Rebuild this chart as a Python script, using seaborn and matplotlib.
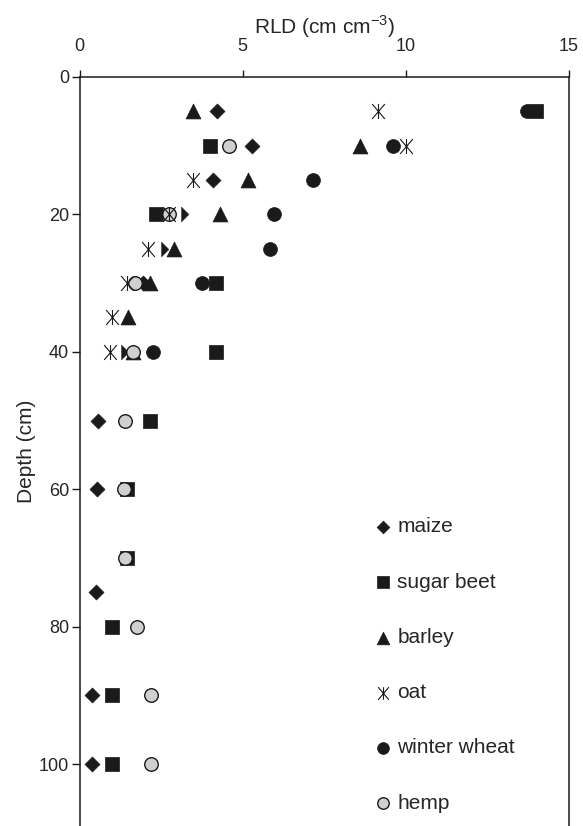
import matplotlib
matplotlib.use("Agg")
import matplotlib.pyplot as plt
import seaborn as sns
from matplotlib.path import Path

# Root length density (cm cm-3) by depth (cm)
maize_depth = [5, 10, 15, 30, 50, 60, 75, 90, 100]
maize_rld = [4.2, 5.3, 4.1, 1.96, 0.58, 0.54, 0.52, 0.37, 0.37]
# maize points whose left half is hidden in the original
maize_half_depth = [20, 25, 40]
maize_half_rld = [3.1, 2.5, 1.26]

beet_depth = [5, 10, 20, 30, 40, 50, 60, 70, 80, 90, 100]
beet_rld = [14.0, 4.0, 2.35, 4.17, 4.17, 2.15, 1.46, 1.46, 0.98, 0.98, 0.98]

barley_depth = [5, 10, 15, 20, 25, 30, 35, 40]
barley_rld = [3.47, 8.6, 5.15, 4.32, 2.91, 2.15, 1.5, 1.63]

oat_depth = [5, 10, 15, 20, 25, 30, 35, 40]
oat_rld = [9.15, 10.0, 3.47, 2.73, 2.09, 1.44, 0.98, 0.92]

wheat_depth = [5, 10, 15, 20, 25, 30, 40]
wheat_rld = [13.7, 9.6, 7.15, 5.95, 5.83, 3.74, 2.24]

hemp_depth = [10, 20, 30, 40, 50, 60, 70, 80, 90, 100]
hemp_rld = [4.57, 2.73, 1.69, 1.63, 1.4, 1.36, 1.4, 1.76, 2.2, 2.2]

x_ticks = [0, 5, 10, 15]
y_ticks = [0, 20, 40, 60, 80, 100]

sns.set_style("ticks")
plt.rcParams["font.family"] = ["Liberation Sans", "DejaVu Sans"]
plt.rcParams["mathtext.fontset"] = "custom"
plt.rcParams["mathtext.rm"] = "Liberation Sans"

BLACK = "#1a1a1a"
HEMP = "#d0d0d0"

oat_marker = Path(
    [(0, -1), (0, 1), (-0.85, -1), (0.85, 1), (-0.85, 1), (0.85, -1)],
    [Path.MOVETO, Path.LINETO] * 3,
)
half_diamond = [(0, 1), (1, 0), (0, -1), (0, 1)]

fig = plt.figure(figsize=(5.83, 8.26), dpi=100)
ax = fig.add_axes([0.1364, 0.0, 0.8396, 0.9068])

sns.scatterplot(x=maize_rld, y=maize_depth, marker="D", s=58, color=BLACK,
                edgecolor=BLACK, linewidth=0.5, label="maize", zorder=2, ax=ax)
sns.scatterplot(x=maize_half_rld, y=maize_half_depth, marker=half_diamond, s=115,
                color=BLACK, edgecolor=BLACK, linewidth=0.3, label="_half",
                zorder=2, ax=ax)
sns.scatterplot(x=beet_rld, y=beet_depth, marker="s", s=100, color=BLACK,
                edgecolor=BLACK, linewidth=0.5, label="sugar beet", zorder=3, ax=ax)
sns.scatterplot(x=barley_rld, y=barley_depth, marker="^", s=115, color=BLACK,
                edgecolor=BLACK, linewidth=0.5, label="barley", zorder=4, ax=ax)
sns.scatterplot(x=oat_rld, y=oat_depth, marker=oat_marker, s=115, color=BLACK,
                edgecolor=BLACK, linewidth=0.8, label="oat", zorder=7, ax=ax)
sns.scatterplot(x=wheat_rld, y=wheat_depth, marker="o", s=100, color=BLACK,
                edgecolor=BLACK, linewidth=0.5, label="winter wheat", zorder=5, ax=ax)
sns.scatterplot(x=hemp_rld, y=hemp_depth, marker="o", s=95, color=HEMP,
                edgecolor=BLACK, linewidth=1.0, label="hemp", zorder=6, ax=ax)

ax.set_xlim(0, 15)
ax.set_ylim(109, 0)
ax.set_xticks(x_ticks)
ax.set_yticks(y_ticks)
ax.xaxis.tick_top()
ax.xaxis.set_label_position("top")
ax.set_xlabel("RLD (cm cm$^{\\mathrm{-3}}$)", fontsize=15, labelpad=3)
ax.set_ylabel("Depth (cm)", fontsize=15, labelpad=2)
ax.tick_params(axis="x", labelsize=13, length=5, width=1, pad=11, color=BLACK)
ax.tick_params(axis="y", labelsize=13, length=6, width=1, pad=1.5, color=BLACK)
for side in ["left", "right", "top"]:
    ax.spines[side].set_visible(True)
    ax.spines[side].set_linewidth(1.1)
    ax.spines[side].set_color(BLACK)
ax.spines["bottom"].set_visible(False)

handles, labels = ax.get_legend_handles_labels()
ax.legend(handles, labels, loc="upper left", bbox_to_anchor=(0.581, 0.423),
          frameon=False, fontsize=15, labelspacing=1.74, handletextpad=0.2,
          handlelength=1.0, markerscale=0.85, borderaxespad=0)

fig.savefig("out.png", dpi=100)
